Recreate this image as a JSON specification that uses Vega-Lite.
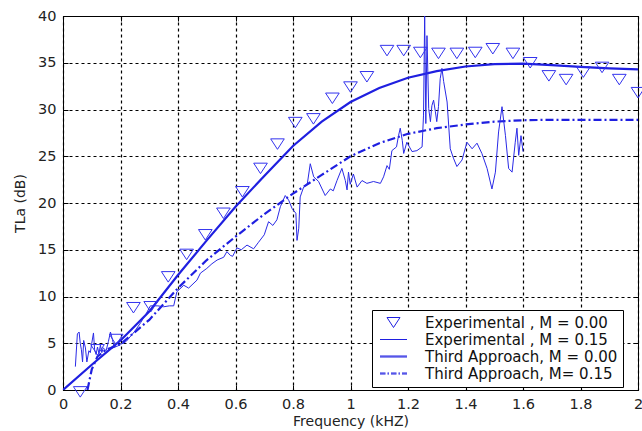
{
  "$schema": "https://vega.github.io/schema/vega-lite/v6.json",
  "width": 575,
  "height": 374,
  "autosize": {"type": "none"},
  "padding": {"left": 63, "top": 16, "right": 4, "bottom": 41},
  "background": "white",
  "config": {
    "view": {"stroke": "black", "strokeWidth": 1},
    "font": "DejaVu Sans",
    "axis": {
      "labelFont": "DejaVu Sans", "labelFontSize": 14.5, "labelColor": "#222", "labelFlush": false,
      "titleFont": "DejaVu Sans", "titleFontSize": 14, "titleFontWeight": "normal", "titleColor": "#222",
      "gridColor": "#000", "gridOpacity": 1, "gridDash": [3, 3], "gridWidth": 1.2,
      "domainColor": "#000", "tickColor": "#000", "tickSize": -5
    },
    "legend": {
      "labelFont": "DejaVu Sans", "labelFontSize": 15, "labelColor": "#111", "labelLimit": 0
    }
  },
  "datasets": {
    "expM0": [
      {"f": 0.06, "tl": -0.2}, {"f": 0.12, "tl": 4.3}, {"f": 0.185, "tl": 5.4},
      {"f": 0.245, "tl": 8.8}, {"f": 0.305, "tl": 8.9}, {"f": 0.366, "tl": 12.1},
      {"f": 0.43, "tl": 14.5}, {"f": 0.495, "tl": 16.6}, {"f": 0.558, "tl": 18.9},
      {"f": 0.624, "tl": 21.2}, {"f": 0.687, "tl": 23.7}, {"f": 0.746, "tl": 26.3},
      {"f": 0.808, "tl": 28.6}, {"f": 0.871, "tl": 29.0}, {"f": 0.937, "tl": 31.2},
      {"f": 1.0, "tl": 32.4}, {"f": 1.057, "tl": 33.5}, {"f": 1.127, "tl": 36.3},
      {"f": 1.185, "tl": 36.3}, {"f": 1.243, "tl": 36.1}, {"f": 1.306, "tl": 36.0},
      {"f": 1.37, "tl": 36.0}, {"f": 1.434, "tl": 36.1}, {"f": 1.495, "tl": 36.5},
      {"f": 1.565, "tl": 36.0}, {"f": 1.625, "tl": 35.0}, {"f": 1.69, "tl": 33.6},
      {"f": 1.75, "tl": 33.2}, {"f": 1.81, "tl": 34.0}, {"f": 1.875, "tl": 34.5},
      {"f": 1.935, "tl": 33.2}, {"f": 2.0, "tl": 31.8}
    ],
    "expM15": [
      {"f": 0.043, "tl": 2.5}, {"f": 0.05, "tl": 6.0}, {"f": 0.056, "tl": 6.2}, {"f": 0.06, "tl": 5.0},
      {"f": 0.064, "tl": 4.3}, {"f": 0.068, "tl": 3.0}, {"f": 0.072, "tl": 5.3}, {"f": 0.078, "tl": 4.5},
      {"f": 0.083, "tl": 3.0}, {"f": 0.09, "tl": 4.2}, {"f": 0.095, "tl": 4.0}, {"f": 0.1, "tl": 5.0},
      {"f": 0.106, "tl": 6.1}, {"f": 0.11, "tl": 4.3}, {"f": 0.115, "tl": 3.8}, {"f": 0.12, "tl": 4.6},
      {"f": 0.125, "tl": 3.9}, {"f": 0.13, "tl": 4.8}, {"f": 0.135, "tl": 4.0}, {"f": 0.14, "tl": 4.5},
      {"f": 0.15, "tl": 4.2}, {"f": 0.158, "tl": 5.2}, {"f": 0.165, "tl": 6.2}, {"f": 0.172, "tl": 5.4},
      {"f": 0.178, "tl": 4.6}, {"f": 0.19, "tl": 4.7}, {"f": 0.2, "tl": 4.9}, {"f": 0.21, "tl": 5.0},
      {"f": 0.22, "tl": 5.2}, {"f": 0.25, "tl": 6.3}, {"f": 0.27, "tl": 7.2}, {"f": 0.29, "tl": 8.2},
      {"f": 0.304, "tl": 9.0}, {"f": 0.33, "tl": 9.0}, {"f": 0.35, "tl": 8.9}, {"f": 0.37, "tl": 9.0},
      {"f": 0.385, "tl": 9.0}, {"f": 0.396, "tl": 10.5}, {"f": 0.42, "tl": 11.2}, {"f": 0.437, "tl": 10.9},
      {"f": 0.466, "tl": 11.75}, {"f": 0.478, "tl": 12.5}, {"f": 0.5, "tl": 13.0}, {"f": 0.518, "tl": 13.5},
      {"f": 0.536, "tl": 13.9}, {"f": 0.559, "tl": 14.2}, {"f": 0.57, "tl": 14.8}, {"f": 0.582, "tl": 14.4},
      {"f": 0.59, "tl": 14.3}, {"f": 0.605, "tl": 15.2}, {"f": 0.62, "tl": 15.0}, {"f": 0.64, "tl": 15.5},
      {"f": 0.663, "tl": 15.1}, {"f": 0.68, "tl": 15.8}, {"f": 0.7, "tl": 16.6}, {"f": 0.715, "tl": 18.0},
      {"f": 0.73, "tl": 17.6}, {"f": 0.744, "tl": 18.2}, {"f": 0.756, "tl": 19.6}, {"f": 0.773, "tl": 20.8},
      {"f": 0.785, "tl": 20.3}, {"f": 0.797, "tl": 19.4}, {"f": 0.81, "tl": 18.9}, {"f": 0.814, "tl": 16.0},
      {"f": 0.82, "tl": 17.3}, {"f": 0.825, "tl": 20.65}, {"f": 0.837, "tl": 21.7}, {"f": 0.85, "tl": 22.1},
      {"f": 0.86, "tl": 24.2}, {"f": 0.872, "tl": 22.8}, {"f": 0.889, "tl": 22.3}, {"f": 0.912, "tl": 20.8},
      {"f": 0.93, "tl": 21.5}, {"f": 0.94, "tl": 21.3}, {"f": 0.953, "tl": 22.4}, {"f": 0.97, "tl": 23.7},
      {"f": 0.982, "tl": 22.4}, {"f": 0.988, "tl": 21.4}, {"f": 0.993, "tl": 23.3}, {"f": 0.999, "tl": 22.0},
      {"f": 1.01, "tl": 23.1}, {"f": 1.023, "tl": 21.7}, {"f": 1.04, "tl": 22.4}, {"f": 1.057, "tl": 22.1},
      {"f": 1.08, "tl": 22.3}, {"f": 1.104, "tl": 22.1}, {"f": 1.115, "tl": 22.8}, {"f": 1.127, "tl": 24.0},
      {"f": 1.135, "tl": 23.6}, {"f": 1.144, "tl": 25.6}, {"f": 1.16, "tl": 26.0}, {"f": 1.167, "tl": 27.2},
      {"f": 1.173, "tl": 28.0}, {"f": 1.18, "tl": 26.7}, {"f": 1.185, "tl": 25.3}, {"f": 1.196, "tl": 26.5},
      {"f": 1.214, "tl": 25.5}, {"f": 1.231, "tl": 25.6}, {"f": 1.249, "tl": 26.0}, {"f": 1.254, "tl": 29.4},
      {"f": 1.258, "tl": 40.0}, {"f": 1.262, "tl": 28.5}, {"f": 1.266, "tl": 37.9}, {"f": 1.272, "tl": 30.1},
      {"f": 1.278, "tl": 28.7}, {"f": 1.283, "tl": 30.4}, {"f": 1.289, "tl": 31.0}, {"f": 1.295, "tl": 29.8},
      {"f": 1.3, "tl": 28.7}, {"f": 1.306, "tl": 30.3}, {"f": 1.312, "tl": 33.3}, {"f": 1.318, "tl": 34.4},
      {"f": 1.324, "tl": 33.0}, {"f": 1.336, "tl": 30.8}, {"f": 1.347, "tl": 25.8}, {"f": 1.358, "tl": 24.8},
      {"f": 1.37, "tl": 23.9}, {"f": 1.388, "tl": 24.6}, {"f": 1.405, "tl": 26.5}, {"f": 1.423, "tl": 25.8},
      {"f": 1.44, "tl": 26.4}, {"f": 1.457, "tl": 25.3}, {"f": 1.475, "tl": 23.7}, {"f": 1.492, "tl": 21.5},
      {"f": 1.504, "tl": 23.3}, {"f": 1.515, "tl": 27.6}, {"f": 1.527, "tl": 30.3}, {"f": 1.539, "tl": 27.2},
      {"f": 1.55, "tl": 23.7}, {"f": 1.562, "tl": 23.3}, {"f": 1.573, "tl": 26.5}, {"f": 1.579, "tl": 28.0},
      {"f": 1.585, "tl": 25.1}, {"f": 1.593, "tl": 27.2}, {"f": 1.6, "tl": 25.5}
    ],
    "thM0": [
      {"f": 0.0, "tl": 0.0}, {"f": 0.1, "tl": 2.7}, {"f": 0.2, "tl": 5.3}, {"f": 0.3, "tl": 8.4},
      {"f": 0.4, "tl": 12.3}, {"f": 0.5, "tl": 16.0}, {"f": 0.6, "tl": 19.6}, {"f": 0.7, "tl": 22.9},
      {"f": 0.8, "tl": 26.1}, {"f": 0.9, "tl": 28.7}, {"f": 1.0, "tl": 30.8}, {"f": 1.1, "tl": 32.3},
      {"f": 1.2, "tl": 33.4}, {"f": 1.3, "tl": 34.1}, {"f": 1.4, "tl": 34.6}, {"f": 1.5, "tl": 34.85},
      {"f": 1.6, "tl": 34.9}, {"f": 1.7, "tl": 34.75}, {"f": 1.8, "tl": 34.55}, {"f": 1.9, "tl": 34.4},
      {"f": 2.0, "tl": 34.3}
    ],
    "thM15": [
      {"f": 0.085, "tl": 0.0}, {"f": 0.1, "tl": 2.2}, {"f": 0.12, "tl": 3.6}, {"f": 0.15, "tl": 4.3},
      {"f": 0.2, "tl": 4.9}, {"f": 0.3, "tl": 7.5}, {"f": 0.4, "tl": 10.9}, {"f": 0.5, "tl": 13.9},
      {"f": 0.6, "tl": 16.4}, {"f": 0.7, "tl": 18.8}, {"f": 0.8, "tl": 21.0}, {"f": 0.9, "tl": 23.0},
      {"f": 1.0, "tl": 25.0}, {"f": 1.1, "tl": 26.4}, {"f": 1.2, "tl": 27.4}, {"f": 1.3, "tl": 28.0},
      {"f": 1.4, "tl": 28.4}, {"f": 1.5, "tl": 28.7}, {"f": 1.6, "tl": 28.85}, {"f": 1.7, "tl": 28.9},
      {"f": 1.8, "tl": 28.9}, {"f": 1.9, "tl": 28.9}, {"f": 2.0, "tl": 28.9}
    ]
  },
  "layer": [
    {
      "data": {"name": "thM0"},
      "mark": {"type": "line", "color": "#1f1fe0", "strokeWidth": 2.2, "clip": true},
      "encoding": {
        "x": {"field": "f", "type": "quantitative", "scale": {"domain": [0, 2], "nice": false},
              "axis": {"orient": "bottom", "title": "Frequency (kHZ)", "values": [0, 0.2, 0.4, 0.6, 0.8, 1, 1.2, 1.4, 1.6, 1.8, 2],
                       "format": "~g", "labelPadding": 12, "titlePadding": 4, "domain": true}},
        "y": {"field": "tl", "type": "quantitative", "scale": {"domain": [0, 40], "nice": false},
              "axis": {"orient": "left", "title": "TLa (dB)", "values": [0, 5, 10, 15, 20, 25, 30, 35, 40],
                       "labelPadding": 12, "titlePadding": 10, "domain": true}}
      }
    },
    {
      "data": {"name": "thM15"},
      "mark": {"type": "line", "color": "#1f1fe0", "strokeWidth": 2.2, "strokeDash": [8, 3, 2, 3], "clip": true},
      "encoding": {
        "x": {"field": "f", "type": "quantitative",
              "axis": {"orient": "top", "title": null, "labels": false, "grid": false, "values": [0, 0.2, 0.4, 0.6, 0.8, 1, 1.2, 1.4, 1.6, 1.8, 2]}},
        "y": {"field": "tl", "type": "quantitative",
              "axis": {"orient": "right", "title": null, "labels": false, "grid": false, "values": [0, 5, 10, 15, 20, 25, 30, 35, 40]}}
      }
    },
    {
      "data": {"name": "expM15"},
      "mark": {"type": "line", "color": "#2a2ae6", "strokeWidth": 1, "clip": true},
      "encoding": {
        "x": {"field": "f", "type": "quantitative", "axis": null},
        "y": {"field": "tl", "type": "quantitative", "axis": null}
      }
    },
    {
      "data": {"name": "expM0"},
      "transform": [{"calculate": "'Experimental , M = 0.00'", "as": "series"}],
      "mark": {"type": "point", "filled": false, "color": "#3333ee", "size": 110, "strokeWidth": 1, "opacity": 1, "clip": false},
      "encoding": {
        "x": {"field": "f", "type": "quantitative", "axis": null},
        "y": {"field": "tl", "type": "quantitative", "axis": null},
        "shape": {
          "field": "series", "type": "nominal",
          "scale": {
            "domain": ["Experimental , M = 0.00", "Experimental , M = 0.15", "Third Approach, M = 0.00", "Third Approach, M= 0.15"],
            "range": [
              "M-1.3,-1L1.3,-1L0,1Z",
              "M-2.7,0H2.7",
              "M-2.7,-0.1H2.7M-2.7,0.1H2.7",
              "M-2.7,-0.1H-1.6M-1.2,-0.1H-0.9M-0.5,-0.1H0.6M1.0,-0.1H1.3M1.7,-0.1H2.7M-2.7,0.1H-1.6M-1.2,0.1H-0.9M-0.5,0.1H0.6M1.0,0.1H1.3M1.7,0.1H2.7"
            ]
          },
          "legend": {
            "title": null, "orient": "none", "legendX": 309, "legendY": 294,
            "strokeColor": "#000", "fillColor": "white", "padding": 5,
            "symbolSize": 100, "symbolStrokeColor": "#1f1fe0", "symbolFillColor": "transparent",
            "symbolStrokeWidth": 1, "symbolOffset": 9, "labelOffset": 24, "rowPadding": 1,
            "labelExpr": "datum.label + '      '"
          }
        }
      }
    }
  ]
}
